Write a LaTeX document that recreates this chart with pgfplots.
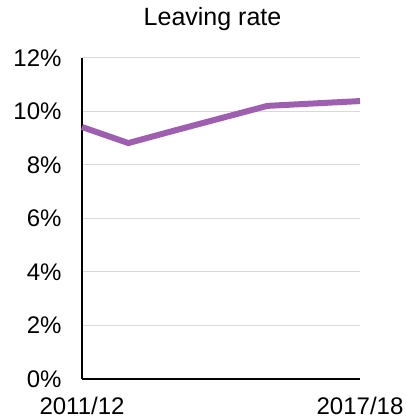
\documentclass[border=0pt]{standalone}
\usepackage{pgfplots}
\pgfplotsset{compat=1.18}
\usepackage{fontspec}
\setmainfont{Liberation Sans}
\definecolor{lineP}{RGB}{158,95,176}
\definecolor{gridG}{RGB}{217,217,217}
\begin{document}
\begin{tikzpicture}[x=1pt,y=1pt]
\useasboundingbox (0,0) rectangle (405,420);
\node[font=\fontsize{25}{28}\selectfont, anchor=base] at (212.5,394) {Leaving rate};
\begin{axis}[
  at={(82pt,41pt)}, anchor=origin,
  scale only axis, width=278pt, height=321pt,
  xmin=0, xmax=6, ymin=0, ymax=12,
  axis x line*=bottom, axis y line*=left,
  axis line style={black, line width=1.2pt},
  x axis line style={-}, y axis line style={-},
  xtick={0,6}, xticklabels={2011/12,2017/18},
  ytick={0,2,4,6,8,10,12},
  yticklabels={0\%,2\%,4\%,6\%,8\%,10\%,12\%},
  major tick length=0pt,
  ymajorgrids, grid style={gridG, line width=1pt},
  tick label style={font=\fontsize{24}{27}\selectfont},
  xticklabel style={yshift=-15pt},
  yticklabel style={xshift=-17pt},
  clip=false,
]
\addplot[lineP, line width=6pt, line join=miter] coordinates {
 (0,9.42) (1,8.82) (2,9.29) (3,9.75) (4,10.21) (5,10.30) (6,10.39)
};
\end{axis}
\end{tikzpicture}
\end{document}
